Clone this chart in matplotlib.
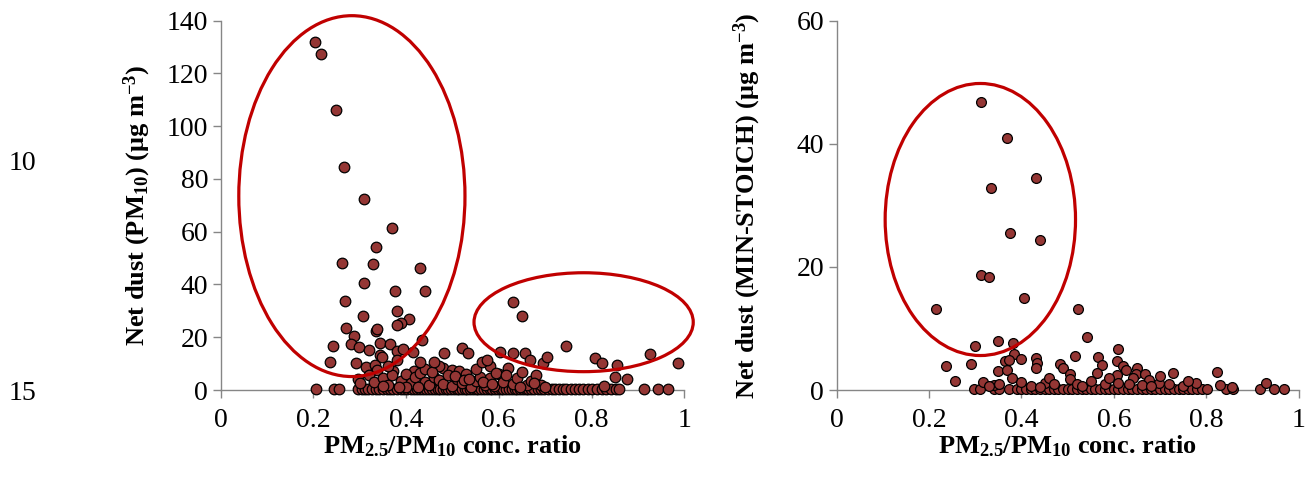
import matplotlib
matplotlib.use("Agg")
import matplotlib.pyplot as plt
from matplotlib.patches import Ellipse

plt.rcParams['font.family'] = ['Liberation Serif', 'DejaVu Serif']
plt.rcParams['mathtext.fontset'] = 'custom'
plt.rcParams['mathtext.rm'] = 'Liberation Serif'
plt.rcParams['mathtext.bf'] = 'Liberation Serif:bold'
plt.rcParams['mathtext.default'] = 'bf'

# ---------------- data: left panel (Net dust PM10) ----------------
left_ratio_high = [0.204, 0.216, 0.249, 0.267, 0.310, 0.369, 0.336, 0.262, 0.328, 0.430,
                   0.310, 0.375, 0.440, 0.269, 0.630, 0.380, 0.308, 0.649, 0.406, 0.388,
                   0.380, 0.270, 0.335, 0.338, 0.288, 0.435, 0.242, 0.281, 0.298, 0.319,
                   0.344, 0.365, 0.381, 0.394, 0.414, 0.344, 0.349, 0.380, 0.482, 0.521,
                   0.534, 0.236, 0.291, 0.430, 0.460, 0.563, 0.574, 0.603, 0.631, 0.657,
                   0.667, 0.696, 0.703, 0.746, 0.808, 0.822, 0.854, 0.926, 0.987]
left_dust_high = [132.1, 127.3, 106.0, 84.7, 72.4, 61.6, 54.2, 48.3, 47.7, 46.2,
                  40.4, 37.6, 37.6, 33.6, 33.2, 30.0, 27.9, 27.9, 27.1, 25.3,
                  24.5, 23.4, 22.5, 23.0, 20.5, 18.8, 16.5, 17.4, 16.2, 15.2,
                  17.7, 17.5, 14.6, 15.5, 14.3, 13.3, 12.4, 11.4, 14.0, 16.1,
                  14.0, 10.5, 10.1, 10.5, 10.5, 10.8, 11.4, 14.3, 14.0, 14.0,
                  11.4, 10.1, 12.7, 16.5, 12.0, 10.4, 9.5, 13.7, 10.1]
left_ratio_low = [0.314, 0.333, 0.338, 0.372, 0.480, 0.498, 0.515, 0.297, 0.851, 0.876,
                  0.826, 0.416, 0.300, 0.320, 0.330, 0.350, 0.360, 0.370, 0.390, 0.400,
                  0.410, 0.420, 0.430, 0.440, 0.450, 0.460, 0.470, 0.480, 0.490, 0.500,
                  0.510, 0.520, 0.530, 0.540, 0.550, 0.560, 0.570, 0.580, 0.590, 0.600,
                  0.610, 0.620, 0.630, 0.640, 0.650, 0.660, 0.670, 0.680, 0.690, 0.700,
                  0.440, 0.470, 0.550, 0.580, 0.360, 0.400, 0.350, 0.455, 0.505, 0.525,
                  0.565, 0.595, 0.615, 0.645, 0.675, 0.425, 0.385, 0.535, 0.585]
left_dust_low = [8.6, 9.5, 7.6, 7.3, 8.2, 7.6, 7.3, 4.2, 5.1, 4.1,
                 1.5, 7.3, 2.5, 5.5, 3.0, 4.5, 2.0, 5.8, 3.5, 6.0,
                 2.5, 4.8, 6.5, 3.2, 1.8, 5.0, 3.8, 2.2, 5.5, 1.5,
                 4.2, 2.8, 6.2, 1.2, 3.6, 5.0, 2.0, 4.4, 1.6, 6.0,
                 3.0, 8.5, 2.4, 4.6, 7.0, 1.8, 3.3, 5.5, 2.0, 1.2,
                 8.0, 9.0, 8.0, 9.2, 9.0, 1.0, 1.5, 6.8, 5.2, 3.9,
                 2.9, 6.6, 5.8, 1.1, 2.6, 1.3, 1.0, 4.0, 2.2]
left_ratio_zero = [0.206, 0.245, 0.256, 0.297, 0.305, 0.312, 0.318, 0.327, 0.335, 0.342,
                   0.350, 0.358, 0.366, 0.372, 0.380, 0.388, 0.395, 0.402, 0.410, 0.417,
                   0.423, 0.430, 0.436, 0.443, 0.450, 0.456, 0.462, 0.468, 0.474, 0.480,
                   0.486, 0.491, 0.497, 0.503, 0.509, 0.514, 0.520, 0.526, 0.532, 0.538,
                   0.544, 0.550, 0.556, 0.562, 0.568, 0.574, 0.580, 0.586, 0.592, 0.598,
                   0.604, 0.610, 0.616, 0.622, 0.628, 0.634, 0.640, 0.646, 0.652, 0.658,
                   0.664, 0.670, 0.677, 0.684, 0.691, 0.698, 0.706, 0.714, 0.722, 0.730,
                   0.738, 0.746, 0.755, 0.764, 0.773, 0.782, 0.792, 0.802, 0.812, 0.822,
                   0.832, 0.842, 0.852, 0.860, 0.913, 0.944, 0.964]

# ---------------- data: right panel (Net dust MIN-STOICH) ----------------
right_ratio = [0.312, 0.369, 0.431, 0.335, 0.375, 0.440, 0.312, 0.330, 0.406, 0.216,
               0.522, 0.541, 0.299, 0.350, 0.381, 0.384, 0.398, 0.364, 0.372, 0.350,
               0.368, 0.237, 0.290, 0.256, 0.316, 0.431, 0.433, 0.431, 0.483, 0.490,
               0.516, 0.506, 0.504, 0.566, 0.575, 0.563, 0.608, 0.606, 0.620, 0.626,
               0.606, 0.608, 0.651, 0.648, 0.641, 0.633, 0.667, 0.676, 0.698, 0.729,
               0.778, 0.824, 0.830, 0.855, 0.929, 0.340, 0.352, 0.330, 0.450, 0.460,
               0.470, 0.520, 0.530, 0.550, 0.580, 0.590, 0.660, 0.680, 0.700, 0.720,
               0.750, 0.760, 0.400, 0.420, 0.380, 0.440]
right_dust = [46.8, 41.0, 34.4, 32.8, 25.5, 24.3, 18.7, 18.4, 15.0, 13.1,
              13.1, 8.6, 7.1, 7.9, 7.6, 5.9, 5.0, 4.7, 4.8, 3.1,
              3.2, 3.9, 4.2, 1.45, 1.24, 5.2, 4.4, 3.6, 4.3, 3.5,
              5.6, 2.6, 1.8, 5.4, 4.0, 2.7, 6.7, 4.7, 3.9, 3.2,
              2.5, 1.2, 3.5, 2.6, 1.9, 1.0, 2.6, 1.7, 1.2, 2.7,
              1.1, 2.85, 0.76, 0.5, 1.2, 0.8, 1.0, 0.6, 1.2, 2.0,
              0.9, 1.0, 0.7, 1.5, 1.0, 2.0, 0.8, 0.6, 2.2, 0.9,
              0.6, 1.5, 1.3, 0.7, 2.0, 0.5]
right_ratio_zero = [0.298, 0.311, 0.340, 0.352, 0.372, 0.390, 0.400, 0.410, 0.420, 0.430,
                    0.440, 0.452, 0.460, 0.470, 0.480, 0.490, 0.500, 0.510, 0.520, 0.530,
                    0.540, 0.550, 0.560, 0.570, 0.580, 0.590, 0.600, 0.610, 0.620, 0.630,
                    0.640, 0.650, 0.660, 0.670, 0.680, 0.690, 0.700, 0.710, 0.720, 0.730,
                    0.740, 0.750, 0.760, 0.770, 0.780, 0.790, 0.801, 0.843, 0.858, 0.916,
                    0.947, 0.969]

x_ticks = [0, 0.2, 0.4, 0.6, 0.8, 1]
x_tick_labels = ["0", "0.2", "0.4", "0.6", "0.8", "1"]
left_y_ticks = [0, 20, 40, 60, 80, 100, 120, 140]
right_y_ticks = [0, 20, 40, 60]

MARKER_FACE = '#943634'
RING = '#C00000'
AXIS_GRAY = '#868686'
FS_TICK = 20
FS_LAB = 19

fig = plt.figure(figsize=(13.13, 4.79), dpi=100)
ax1 = fig.add_axes([0.1681, 0.1858, 0.353, 0.771])
ax2 = fig.add_axes([0.6372, 0.1858, 0.3519, 0.771])


def style(ax, yticks, ymax):
    ax.set_xlim(0, 1)
    ax.set_ylim(0, ymax)
    ax.set_xticks(x_ticks)
    ax.set_xticklabels(x_tick_labels)
    ax.set_yticks(yticks)
    for s in ('top', 'right'):
        ax.spines[s].set_visible(False)
    for s in ('left', 'bottom'):
        ax.spines[s].set_color(AXIS_GRAY)
        ax.spines[s].set_linewidth(1.0)
    ax.tick_params(direction='out', length=6, width=1.0, color=AXIS_GRAY,
                   labelsize=FS_TICK, pad=3)
    ax.tick_params(axis='x', pad=7)
    ax.set_xlabel(r'PM$_{2.5}$/PM$_{10}$ conc. ratio', fontsize=FS_LAB, fontweight='bold',
                  labelpad=0.5)


style(ax1, left_y_ticks, 140)
style(ax2, right_y_ticks, 60)

kw = dict(s=58, c=MARKER_FACE, edgecolors='black', linewidths=0.9, zorder=3, clip_on=False)
ax1.scatter(left_ratio_zero, [0.3] * len(left_ratio_zero), **kw)
ax1.scatter(left_ratio_low, left_dust_low, **kw)
ax1.scatter(left_ratio_high, left_dust_high, **kw)

kw2 = dict(kw, s=50)
ax2.scatter(right_ratio_zero, [0.15] * len(right_ratio_zero), **kw2)
ax2.scatter(right_ratio, right_dust, **kw2)

ax1.add_patch(Ellipse((0.283, 73.5), 0.488, 136.8, fill=False, edgecolor=RING,
                      linewidth=2.3, clip_on=False, zorder=4))
ax1.add_patch(Ellipse((0.783, 25.7), 0.473, 37.5, fill=False, edgecolor=RING,
                      linewidth=2.3, clip_on=False, zorder=4))
ax2.add_patch(Ellipse((0.311, 27.7), 0.412, 44.2, fill=False, edgecolor=RING,
                      linewidth=2.3, clip_on=False, zorder=4))

ax1.set_ylabel(r'Net dust (PM$_{10}$) (μg m$^{-3}$)', fontsize=FS_LAB, fontweight='bold',
               labelpad=10)
ax2.set_ylabel(r'Net dust (MIN-STOICH) (μg m$^{-3}$)', fontsize=FS_LAB, fontweight='bold',
               labelpad=24)

fig.text(22 / 1313, 1 - 164 / 479, '10', fontsize=FS_TICK, ha='center', va='center')
fig.text(22 / 1313, 1 - 394 / 479, '15', fontsize=FS_TICK, ha='center', va='center')

fig.savefig('out.png', dpi=100)
